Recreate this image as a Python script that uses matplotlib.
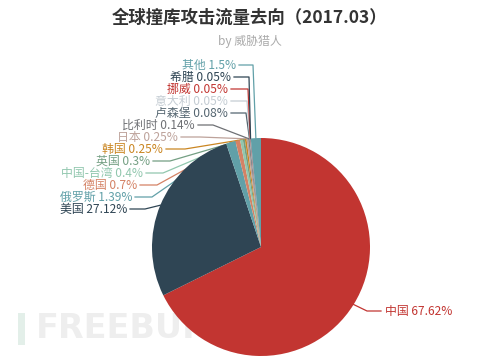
import numpy as np
import matplotlib
matplotlib.use('Agg')
import matplotlib.pyplot as plt
from matplotlib.patches import Rectangle

plt.rcParams['font.family'] = ['Noto Sans CJK SC', 'DejaVu Sans']

# data
names = ['中国', '美国', '俄罗斯', '德国', '中国-台湾', '英国', '韩国', '日本',
         '比利时', '卢森堡', '意大利', '挪威', '希腊', '其他']
values = [67.62, 27.12, 1.39, 0.7, 0.4, 0.3, 0.25, 0.25, 0.14, 0.08, 0.05, 0.05, 0.05, 1.5]
colors = ['#c23531', '#2f4554', '#61a0a8', '#d48265', '#91c7ae', '#749f83', '#ca8622',
          '#bda29a', '#6e7074', '#546570', '#c4ccd3', '#c23531', '#2f4554', '#61a0a8']

# label layout in screen pixels: label y, line end x, elbow x
lab_y = [311, 209, 197, 185, 173, 161, 149, 137, 125, 113, 101, 89, 77, 65]
line_end = [381, 130, 135, 140, 146, 153, 166, 181, 198, 231, 231, 231, 234, 239]
elbow_x = [367, 145, 152, 157, 163, 170, 185, 200, 213, 246, 247, 248, 249, 253]

W, H = 500, 363
cx, cy, r = 261, 247, 109

fig = plt.figure(figsize=(5, 3.63), dpi=100)
ax = fig.add_axes([0, 0, 1, 1])
ax.set_xlim(0, W)
ax.set_ylim(0, H)
ax.set_aspect('equal')
ax.axis('off')

wedges, _ = ax.pie(values, colors=colors, startangle=90, counterclock=False,
                   center=(cx, H - cy), radius=r, frame=True,
                   wedgeprops=dict(linewidth=0, zorder=3))
ax.set_xlim(0, W)
ax.set_ylim(0, H)
ax.axis('off')

for i, w in enumerate(wedges):
    ang = np.deg2rad((w.theta1 + w.theta2) / 2)
    ex = cx + r * np.cos(ang)
    ey = (H - cy) + r * np.sin(ang)
    ly = H - lab_y[i]
    if i == 0:
        # right side label
        ax.plot([ex, elbow_x[i], line_end[i]], [ey, ly, ly], color=colors[i], lw=0.9, zorder=2)
        ax.text(line_end[i] + 4, ly, '%s %s%%' % (names[i], values[i]), color=colors[i],
                fontsize=8.6, ha='left', va='center')
    else:
        ax.plot([ex, elbow_x[i], line_end[i]], [ey, ly, ly], color=colors[i], lw=0.9, zorder=2)
        ax.text(line_end[i] - 3, ly, '%s %s%%' % (names[i], values[i]), color=colors[i],
                fontsize=8.6, ha='right', va='center')

# title
fig.text(0.5, 1 - 18 / H, '全球撞库攻击流量去向（2017.03）', ha='center', va='center',
         fontsize=12.5, fontweight='bold', color='#333333')
fig.text(0.5, 1 - 41 / H, 'by 威胁猎人', ha='center', va='center', fontsize=8.6, color='#aaaaaa')

# watermark
ax.add_patch(Rectangle((18, H - 345), 7, 32, color='#e3efe9', zorder=0, lw=0))
ax.text(36, H - 329, 'FREEBUF', fontsize=24, fontweight='bold', color='#eeeeee',
        ha='left', va='center', family='DejaVu Sans', zorder=0)

fig.savefig('out.png', dpi=100)
